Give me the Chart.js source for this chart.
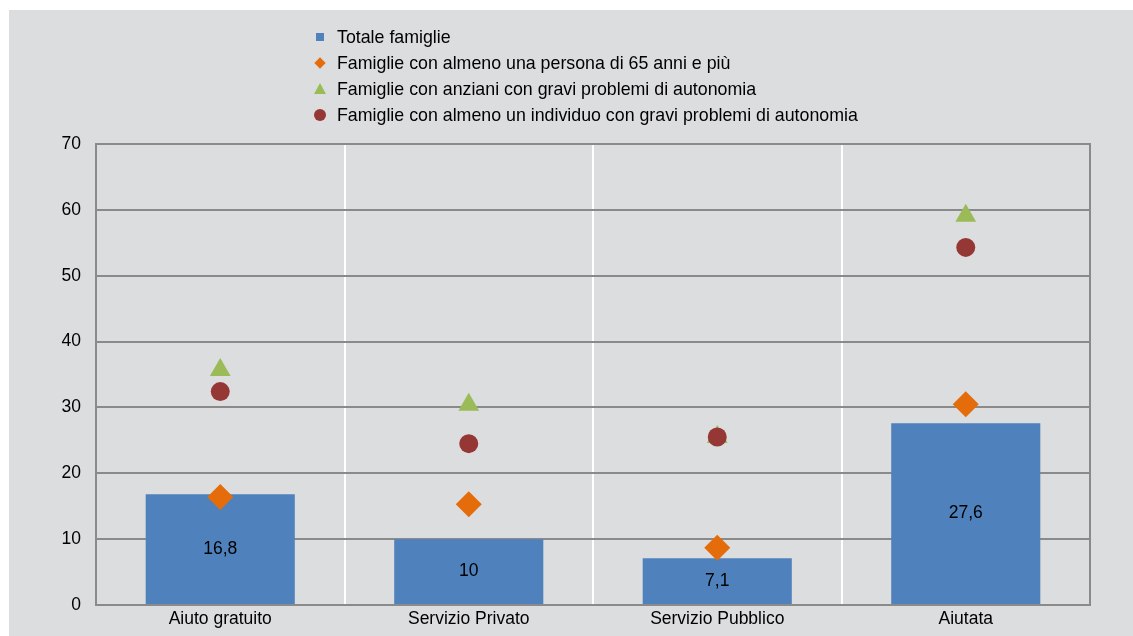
<!DOCTYPE html>
<html>
<head>
<meta charset="utf-8">
<script src="https://cdn.jsdelivr.net/npm/chart.js@4.4.1/dist/chart.umd.min.js"></script>
<style>
  body { margin: 0; background: #ffffff; }
  #frame { position: absolute; left: 9px; top: 10px; width: 1124px; height: 626px; background: #dcdddf; }
  #wrap { position: absolute; left: 0; top: 0; width: 1133px; height: 636px; }
  #legend { position: absolute; left: 310px; top: 24px; font: 17.8px 'Liberation Sans', Arial, sans-serif; color: #000; }
  .row { height: 26px; display: flex; align-items: center; white-space: nowrap; }
  .mk { width: 27px; height: 26px; position: relative; flex: none; }
  .mk span { position: absolute; display: block; }
  .sq { left: 6px; top: 9px; width: 8px; height: 8px; background: #4f81bd; }
  .di { left: 6px; top: 9px; width: 8px; height: 8px; background: #e46c0a; transform: rotate(45deg); }
  .tr { left: 4px; top: 7px; width: 0; height: 0; border-left: 6px solid transparent; border-right: 6px solid transparent; border-bottom: 11px solid #9bbb59; }
  .ci { left: 4px; top: 7px; width: 12px; height: 12px; border-radius: 50%; background: #953735; }
</style>
</head>
<body>
<div id="frame"></div>
<div id="wrap"><canvas id="chart" width="1133" height="636"></canvas></div>
<div id="legend"></div>
<script>
// ---- data ----
const categories = ['Aiuto gratuito', 'Servizio Privato', 'Servizio Pubblico', 'Aiutata'];
const seriesNames = [
  'Totale famiglie',
  'Famiglie con almeno una persona di 65 anni e più',
  'Famiglie con anziani con gravi problemi di autonomia',
  'Famiglie con almeno un individuo con gravi problemi di autonomia'
];
const totaleFamiglie = [16.8, 10, 7.1, 27.6];
const famiglie65 = [16.4, 15.3, 8.7, 30.5];
const anzianiGravi = [35.7, 30.4, 25.5, 59.1];
const individuoGravi = [32.4, 24.5, 25.5, 54.3];
const yTicks = [0, 10, 20, 30, 40, 50, 60, 70];

const FONT = "'Liberation Sans', Arial, sans-serif";
const GRID = '#8a8a8a';

// HTML legend (vertical list above the plot)
const legendMarks = ['sq', 'di', 'tr', 'ci'];
document.getElementById('legend').innerHTML = seriesNames
  .map((n, i) => `<div class="row"><div class="mk"><span class="${legendMarks[i]}"></span></div>${n}</div>`)
  .join('');

// value labels in the middle of the bars
const barLabels = {
  id: 'barLabels',
  afterDatasetsDraw(chart) {
    const meta = chart.getDatasetMeta(0);
    const ctx = chart.ctx;
    ctx.save();
    ctx.font = '17.5px ' + FONT;
    ctx.fillStyle = '#000';
    ctx.textAlign = 'center';
    ctx.textBaseline = 'middle';
    meta.data.forEach((bar, i) => {
      const txt = String(totaleFamiglie[i]).replace('.', ',');
      ctx.fillText(txt, bar.x, (bar.y + bar.base) / 2);
    });
    ctx.restore();
  }
};

// gray frame on top and right side of the plot
const plotFrame = {
  id: 'plotFrame',
  afterDraw(chart) {
    const a = chart.chartArea;
    const ctx = chart.ctx;
    ctx.save();
    ctx.strokeStyle = GRID;
    ctx.lineWidth = 2;
    ctx.beginPath();
    ctx.moveTo(a.left, a.top);
    ctx.lineTo(a.right, a.top);
    ctx.lineTo(a.right, a.bottom);
    ctx.stroke();
    ctx.restore();
  }
};

const pointSet = (label, data, color, style, radius, order) => ({
  type: 'line', label, data, order,
  showLine: false,
  pointStyle: style,
  pointRadius: radius, pointHoverRadius: radius,
  pointBackgroundColor: color, pointBorderColor: color, pointBorderWidth: 0,
  backgroundColor: color, borderColor: color
});

new Chart(document.getElementById('chart'), {
  type: 'bar',
  data: {
    labels: categories,
    datasets: [
      {
        label: seriesNames[0], data: totaleFamiglie, order: 4,
        backgroundColor: '#4f81bd', borderWidth: 0,
        barPercentage: 1, categoryPercentage: 0.6
      },
      pointSet(seriesNames[1], famiglie65, '#e46c0a', 'rectRot', 13, 3),
      pointSet(seriesNames[2], anzianiGravi, '#9bbb59', 'triangle', 12, 2),
      pointSet(seriesNames[3], individuoGravi, '#953735', 'circle', 9.5, 1)
    ]
  },
  options: {
    responsive: false,
    animation: false,
    devicePixelRatio: 1,
    layout: { padding: { top: 144, right: 43, left: 0, bottom: 0 } },
    plugins: {
      legend: { display: false },
      tooltip: { enabled: false }
    },
    scales: {
      x: {
        grid: { offset: true, color: '#ffffff', lineWidth: 2, drawTicks: false },
        border: { display: true, color: GRID, width: 2 },
        ticks: { color: '#000', font: { family: FONT, size: 17.5 }, padding: 4 },
        afterFit: s => { s.height = 31; }
      },
      y: {
        min: 0, max: 70,
        afterBuildTicks: s => { s.ticks = yTicks.map(v => ({ value: v })); },
        grid: { color: GRID, lineWidth: 2, drawTicks: false },
        border: { display: true, color: GRID, width: 2 },
        ticks: { color: '#000', font: { family: FONT, size: 17.5 }, padding: 15 },
        afterFit: s => { s.width = 96; }
      }
    }
  },
  plugins: [barLabels, plotFrame]
});
</script>
</body>
</html>
